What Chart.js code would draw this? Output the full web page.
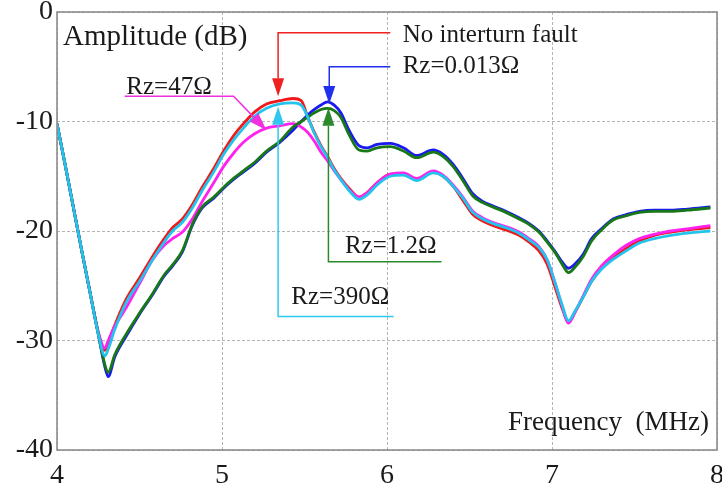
<!DOCTYPE html>
<html>
<head>
<meta charset="utf-8">
<script src="https://cdn.jsdelivr.net/npm/chart.js@4"></script>
<style>
  html, body { margin: 0; padding: 0; background: #ffffff; }
  #wrap { width: 722px; height: 489px; position: relative; }
</style>
</head>
<body>
<div id="wrap"><canvas id="c" width="722" height="489"></canvas></div>
<script>
// ---------- DATA ----------
const freqMHz = [4.00, 4.05, 4.10, 4.15, 4.20, 4.25, 4.29, 4.31, 4.35, 4.42, 4.50, 4.58, 4.65, 4.70, 4.76, 4.82, 4.88, 4.95, 5.01, 5.07, 5.13, 5.20, 5.27, 5.35, 5.43, 5.48, 5.52, 5.56, 5.60, 5.64, 5.68, 5.72, 5.77, 5.83, 5.88, 5.94, 6.02, 6.10, 6.18, 6.28, 6.34, 6.40, 6.46, 6.52, 6.58, 6.64, 6.72, 6.80, 6.86, 6.92, 6.97, 7.02, 7.06, 7.10, 7.14, 7.19, 7.24, 7.30, 7.37, 7.45, 7.53, 7.62, 7.72, 7.82, 7.96];

const noFault = [-10.2, -14.0, -17.9, -21.8, -25.6, -29.3, -30.9, -30.2, -28.6, -26.2, -24.3, -22.3, -20.7, -19.7, -18.9, -17.6, -16.0, -14.3, -12.7, -11.3, -10.2, -9.1, -8.4, -8.1, -7.9, -8.1, -9.6, -11.0, -12.2, -13.2, -14.3, -15.2, -16.1, -16.9, -16.5, -15.6, -14.8, -14.8, -15.3, -14.6, -15.0, -15.9, -17.2, -18.5, -19.1, -19.5, -19.9, -20.4, -21.0, -21.8, -23.0, -25.2, -27.0, -28.3, -27.4, -26.0, -24.6, -23.4, -22.5, -21.6, -20.9, -20.4, -20.1, -19.9, -19.7];

const rz0013 = [-10.2, -14.0, -17.9, -21.8, -25.6, -29.4, -32.4, -33.3, -31.5, -29.6, -27.6, -25.8, -24.1, -23.2, -21.9, -19.5, -17.9, -17.0, -16.1, -15.3, -14.6, -13.8, -12.8, -11.9, -10.8, -10.0, -9.4, -8.9, -8.5, -8.2, -8.5, -9.2, -10.8, -12.2, -12.4, -12.1, -12.0, -12.4, -13.1, -12.6, -13.0, -13.9, -15.2, -16.6, -17.3, -17.7, -18.2, -18.8, -19.3, -20.0, -20.9, -21.9, -22.8, -23.4, -23.0, -22.1, -20.7, -19.8, -18.9, -18.5, -18.2, -18.1, -18.1, -18.0, -17.8];

const rz12 = [-10.2, -14.0, -17.9, -21.8, -25.6, -29.4, -32.2, -32.9, -31.3, -29.4, -27.5, -25.7, -24.0, -23.1, -21.8, -19.4, -17.8, -16.9, -16.0, -15.2, -14.5, -13.7, -12.7, -11.8, -10.5, -10.0, -9.6, -9.2, -8.9, -8.8, -9.0, -9.6, -11.2, -12.6, -12.7, -12.4, -12.3, -12.7, -13.3, -12.8, -13.2, -14.1, -15.4, -16.8, -17.4, -17.8, -18.3, -18.9, -19.4, -20.1, -21.0, -22.0, -23.0, -23.8, -23.3, -22.3, -20.9, -19.9, -19.0, -18.6, -18.3, -18.2, -18.2, -18.1, -17.9];

const rz47 = [-10.2, -14.0, -17.9, -21.8, -25.6, -29.2, -30.7, -30.0, -28.7, -27.0, -24.8, -22.6, -21.3, -20.7, -20.1, -18.9, -17.3, -15.6, -14.1, -12.9, -11.9, -11.1, -10.6, -10.4, -10.2, -10.5, -11.0, -11.8, -12.8, -13.6, -14.5, -15.3, -16.2, -16.9, -16.5, -15.6, -14.8, -14.7, -15.2, -14.5, -14.9, -15.8, -16.9, -18.2, -18.8, -19.2, -19.6, -20.1, -20.7, -21.4, -22.6, -24.8, -26.8, -28.4, -27.4, -25.9, -24.4, -23.2, -22.2, -21.3, -20.7, -20.3, -20.0, -19.8, -19.5];

const rz390 = [-10.2, -14.0, -17.9, -21.8, -25.6, -29.4, -31.4, -30.8, -29.0, -26.5, -24.6, -22.6, -21.0, -20.0, -19.2, -17.9, -16.3, -14.6, -13.0, -11.7, -10.6, -9.5, -8.8, -8.4, -8.3, -8.5, -9.6, -11.1, -12.3, -13.3, -14.4, -15.3, -16.3, -17.1, -16.7, -15.8, -15.0, -14.9, -15.4, -14.7, -15.0, -15.9, -17.0, -18.3, -18.9, -19.3, -19.7, -20.2, -20.8, -21.5, -22.6, -24.8, -26.7, -28.2, -27.3, -26.0, -24.6, -23.5, -22.6, -21.8, -21.1, -20.7, -20.4, -20.2, -20.0];

const xTicks = [4, 5, 6, 7, 8];
const yTicks = [0, -10, -20, -30, -40];
const yTitle = "Amplitude (dB)";
const xTitle = "Frequency  (MHz)";

// series labels
const seriesLabels = ["No interturn fault", "Rz=0.013Ω", "Rz=1.2Ω", "Rz=47Ω", "Rz=390Ω"];

// annotation callouts (data coordinates): text, arrow tip, path
const callouts = [
  { text: "No interturn fault", color: "#ee2020", tip: [5.34, -7.7], path: [[6.02, -1.9], [5.34, -1.9]], textAt: [6.095, -2.1] },
  { text: "Rz=0.013Ω", color: "#2030ee", tip: [5.65, -8.4], path: [[6.02, -5.0], [5.65, -5.0]], textAt: [6.095, -5.0] },
  { text: "Rz=47Ω", color: "#ee30dd", tip: [5.27, -10.8], path: [[4.41, -7.7], [5.07, -7.7]], textAt: [4.42, -6.9] },
  { text: "Rz=390Ω", color: "#30c8ee", tip: [5.34, -8.65], path: [[6.04, -27.8], [5.34, -27.8]], textAt: [5.42, -26.1] },
  { text: "Rz=1.2Ω", color: "#2a8a2a", tip: [5.645, -8.75], path: [[6.33, -22.8], [5.645, -22.8]], textAt: [5.745, -21.4] }
];

// ---------- STYLE ----------
const SERIF = "'Liberation Serif', 'Times New Roman', serif";
const seriesColors = ["#f01818", "#1a1aee", "#187818", "#ff22ee", "#22c4ee"];
const seriesOrder = [4, 3, 1, 2, 0]; // lower = drawn on top

function pts(arr) { return freqMHz.map((f, i) => ({ x: f, y: arr[i] })); }
const seriesValues = [noFault, rz0013, rz12, rz47, rz390];

const datasets = seriesValues.map((arr, i) => ({
  label: seriesLabels[i],
  data: pts(arr),
  borderColor: seriesColors[i],
  backgroundColor: seriesColors[i],
  borderWidth: 2.8,
  pointRadius: 0,
  cubicInterpolationMode: 'monotone',
  order: seriesOrder[i],
  fill: false
}));

const overlayPlugin = {
  id: 'overlay',
  afterDatasetsDraw(chart) {
    const { ctx, chartArea: a, scales: { x, y } } = chart;
    const px = v => x.getPixelForValue(v);
    const py = v => y.getPixelForValue(v);
    ctx.save();
    // frame
    ctx.strokeStyle = '#8c8c8c';
    ctx.lineWidth = 1.6;
    ctx.strokeRect(a.left, a.top, a.right - a.left, a.bottom - a.top);

    // axis titles
    ctx.fillStyle = '#1a1a1a';
    ctx.textBaseline = 'middle';
    ctx.textAlign = 'left';
    ctx.font = '29px ' + SERIF;
    ctx.fillText(yTitle, a.left + 6, a.top + 25);
    ctx.font = '27px ' + SERIF;
    ctx.textAlign = 'right';
    ctx.fillText(xTitle, a.right - 8, a.bottom - 27);

    // callouts
    ctx.font = '25px ' + SERIF;
    ctx.textAlign = 'left';
    callouts.forEach(c => {
      const tip = [px(c.tip[0]), py(c.tip[1])];
      const p = c.path.map(q => [px(q[0]), py(q[1])]);
      const last = p[p.length - 1];
      ctx.strokeStyle = c.color;
      ctx.lineWidth = 1.5;
      ctx.beginPath();
      ctx.moveTo(p[0][0], p[0][1]);
      for (let i = 1; i < p.length; i++) ctx.lineTo(p[i][0], p[i][1]);
      const dx = tip[0] - last[0], dy = tip[1] - last[1];
      const len = Math.hypot(dx, dy);
      const ux = dx / len, uy = dy / len;
      const hl = 18, hw = 6;
      const bx = tip[0] - ux * hl, by = tip[1] - uy * hl;
      ctx.lineTo(bx, by);
      ctx.stroke();
      ctx.fillStyle = c.color;
      ctx.beginPath();
      ctx.moveTo(tip[0], tip[1]);
      ctx.lineTo(bx - uy * hw, by + ux * hw);
      ctx.lineTo(bx + uy * hw, by - ux * hw);
      ctx.closePath();
      ctx.fill();
      ctx.fillStyle = '#1a1a1a';
      ctx.fillText(c.text, px(c.textAt[0]), py(c.textAt[1]));
    });
    ctx.restore();
  }
};

new Chart(document.getElementById('c'), {
  type: 'line',
  data: { datasets },
  options: {
    responsive: false,
    animation: false,
    parsing: true,
    layout: { padding: { top: 12, right: 5, left: 0, bottom: 0 } },
    plugins: { legend: { display: false }, tooltip: { enabled: false } },
    scales: {
      x: {
        type: 'linear', min: 4, max: 8,
        afterFit: s => { s.height = 39; s.paddingLeft = 0; s.paddingRight = 0; },
        afterBuildTicks: s => { s.ticks = xTicks.map(v => ({ value: v })); },
        ticks: { font: { family: SERIF, size: 28 }, color: '#1a1a1a', padding: 9, maxRotation: 0 },
        grid: { color: '#b4b4b4', lineWidth: 1, drawTicks: false },
        border: { display: false, dash: [3, 2] }
      },
      y: {
        type: 'linear', min: -40, max: 0,
        afterFit: s => { s.width = 57; s.paddingTop = 0; s.paddingBottom = 0; },
        afterBuildTicks: s => { s.ticks = yTicks.map(v => ({ value: v })); },
        ticks: { font: { family: SERIF, size: 28 }, color: '#1a1a1a', padding: 4 },
        grid: { color: '#b4b4b4', lineWidth: 1, drawTicks: false },
        border: { display: false, dash: [3, 2] }
      }
    }
  },
  plugins: [overlayPlugin]
});
</script>
</body>
</html>
